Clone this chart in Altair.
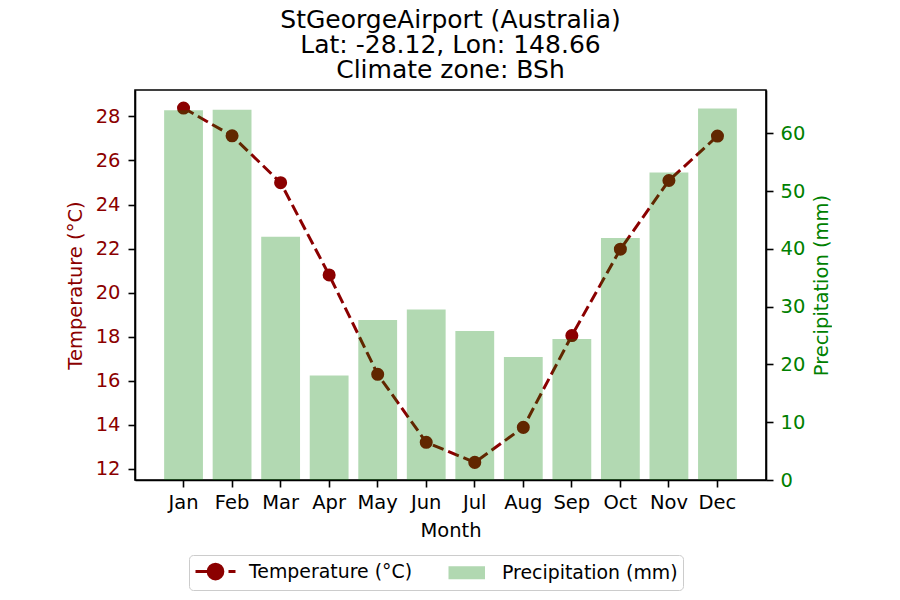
import altair as alt
import pandas as pd

months = ["Jan", "Feb", "Mar", "Apr", "May", "Jun", "Jul", "Aug", "Sep", "Oct", "Nov", "Dec"]
temperature = [28.38, 27.12, 24.99, 20.8, 16.29, 13.2, 12.29, 13.88, 18.05, 21.97, 25.09, 27.11]
precipitation = [64.0, 64.1, 42.1, 18.1, 27.7, 29.5, 25.8, 21.3, 24.4, 41.9, 53.2, 64.3]

T_LABEL = "Temperature (°C)"
P_LABEL = "Precipitation (mm)"
title_lines = ["StGeorgeAirport (Australia)", "Lat: -28.12, Lon: 148.66", "Climate zone: BSh"]
temp_ticks = [12, 14, 16, 18, 20, 22, 24, 26, 28]
precip_ticks = [0, 10, 20, 30, 40, 50, 60]

FONT = "DejaVu Sans"
DARKRED = "#8b0000"
GREEN = "#008000"

df = pd.DataFrame({"Month": months, "Temperature": temperature, "Precipitation": precipitation})

x_scale = alt.Scale(paddingInner=0.2, paddingOuter=0.6)
x_axis = alt.Axis(title="Month", labelAngle=0, labelColor="black", titleColor="black",
                  labelPadding=6, titlePadding=10)

color_scale = alt.Scale(domain=[T_LABEL, P_LABEL], range=[DARKRED, GREEN])

LINE_PATH = ("M-1,0 H0.15 M0.65,0 H1.8 M2.3,0 H3 "
             "M1.735,0 A0.735,0.735 0 1,1 0.265,0 A0.735,0.735 0 1,1 1.735,0 Z")
RECT_PATH = "M-0.85,-0.5 H2.5 V0.5 H-0.85 Z"
is_t = f"datum.value == '{T_LABEL}'"

legend = alt.Legend(
    title=None, orient="none", legendX=54, legendY=465, direction="horizontal",
    symbolType=alt.ExprRef(expr=f"{is_t} ? '{LINE_PATH}' : '{RECT_PATH}'"),
    symbolSize=400, symbolStrokeWidth=3,
    symbolFillColor=alt.ExprRef(expr=f"{is_t} ? '{DARKRED}' : '{GREEN}'"),
    symbolStrokeColor=alt.ExprRef(expr=f"{is_t} ? '{DARKRED}' : '{GREEN}'"),
    symbolOpacity=alt.ExprRef(expr=f"{is_t} ? 1 : 0.3"),
    labelFont=FONT, labelFontSize=18.9, labelColor="black", labelOffset=32,
    labelLimit=400, columnPadding=31, padding=5, fillColor="white",
    strokeColor="#cccccc", cornerRadius=4,
)

base = alt.Chart(df)

line = base.mark_line(
    strokeDash=[11.5, 5], strokeWidth=3,
    point=alt.OverlayMarkDef(filled=True, size=170, opacity=1),
).transform_calculate(
    series=f"'{T_LABEL}'"
).encode(
    x=alt.X("Month:N", sort=months, scale=x_scale, axis=x_axis),
    y=alt.Y("Temperature:Q",
            scale=alt.Scale(domain=[11.49, 29.2], nice=False, zero=False),
            axis=alt.Axis(title=T_LABEL, orient="left", values=temp_ticks,
                          labelColor=DARKRED, titleColor=DARKRED,
                          labelPadding=8, titlePadding=10)),
    color=alt.Color("series:N", scale=color_scale, legend=legend),
)

bars = base.mark_bar(opacity=0.3).transform_calculate(
    series=f"'{P_LABEL}'"
).encode(
    x=alt.X("Month:N", sort=months, scale=x_scale, axis=x_axis),
    y=alt.Y("Precipitation:Q",
            scale=alt.Scale(domain=[0, 67.5], nice=False),
            axis=alt.Axis(title=P_LABEL, orient="right", values=precip_ticks,
                          labelColor=GREEN, titleColor=GREEN,
                          titleAngle=270, titleBaseline="top",
                          labelPadding=7, titlePadding=8)),
    color=alt.Color("series:N", scale=color_scale, legend=legend),
)

chart = alt.layer(line, bars).resolve_scale(y="independent").properties(
    width=631, height=390,
    padding={"left": 57, "top": 0, "right": 0, "bottom": 0},
    title=alt.TitleParams(text=title_lines, fontSize=25, font=FONT, fontWeight="normal",
                          color="black", lineHeight=25, offset=7, anchor="middle",
                          frame="group"),
).configure_view(
    stroke="black", strokeWidth=1.6
).configure_axis(
    domainColor="black", domainWidth=1.6, tickColor="black", tickWidth=1.6, tickSize=7,
    labelFont=FONT, labelFontSize=19.5, titleFont=FONT, titleFontSize=19.5,
    titleFontWeight="normal", grid=False,
)

chart.save("out.html", embed_options={"renderer": "svg", "actions": False})
